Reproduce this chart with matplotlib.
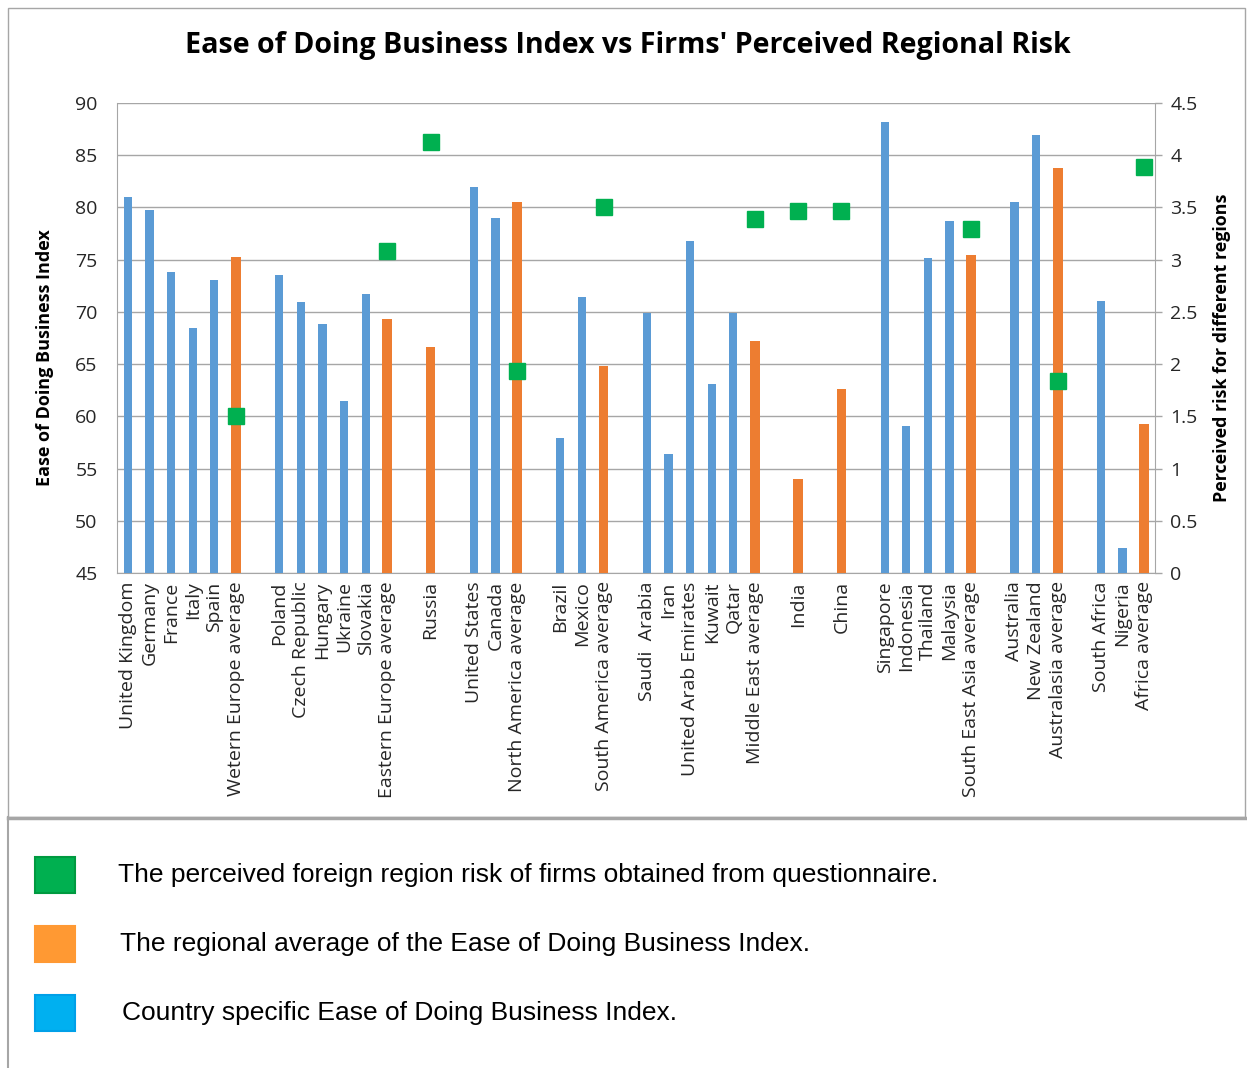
import numpy as np
import matplotlib.pyplot as plt
from matplotlib.patches import Rectangle
from matplotlib.lines import Line2D

plt.rcParams['font.family'] = ['Open Sans', 'DejaVu Sans']

# categories in chart order; None marks an empty slot between regions
labels = ['United Kingdom', 'Germany', 'France', 'Italy', 'Spain', 'Wetern Europe average', None,
          'Poland', 'Czech Republic', 'Hungary', 'Ukraine', 'Slovakia', 'Eastern Europe average', None,
          'Russia', None,
          'United States', 'Canada', 'North America average', None,
          'Brazil', 'Mexico', 'South America average', None,
          'Saudi  Arabia', 'Iran', 'United Arab Emirates', 'Kuwait', 'Qatar', 'Middle East average', None,
          'India', None,
          'China', None,
          'Singapore', 'Indonesia', 'Thailand', 'Malaysia', 'South East Asia average', None,
          'Australia', 'New Zealand', 'Australasia average', None,
          'South Africa', 'Nigeria', 'Africa average']

ease_index = [81.0, 79.8, 73.8, 68.5, 73.1, 75.3, None,
              73.5, 70.9, 68.8, 61.5, 71.7, 69.3, None,
              66.6, None,
              82.0, 79.0, 80.5, None,
              57.9, 71.4, 64.8, None,
              69.9, 56.4, 76.8, 63.1, 69.9, 67.2, None,
              54.0, None,
              62.6, None,
              88.2, 59.1, 75.2, 78.7, 75.4, None,
              80.5, 86.9, 83.8, None,
              71.0, 47.4, 59.3]

# perceived regional risk (right axis), placed on the regional average bars
risk_labels = ['Wetern Europe average', 'Eastern Europe average', 'Russia', 'North America average',
               'South America average', 'Middle East average', 'India', 'China',
               'South East Asia average', 'Australasia average', 'Africa average']
risk_values = [1.50, 3.08, 4.13, 1.93, 3.50, 3.39, 3.47, 3.47, 3.29, 1.84, 3.89]

# regional averages and single-country regions are drawn orange
regional = set(risk_labels)

blue = '#5B9BD5'
orange = '#ED7D31'
green = '#00B050'

fig = plt.figure(figsize=(12.47, 10.68), dpi=100)
W, H = 1247, 1068

ax = fig.add_axes([117/W, 1-573/H, (1155-117)/W, (573-103)/H])
ax2 = ax.twinx()

for i, (lab, v) in enumerate(zip(labels, ease_index)):
    if lab is None:
        continue
    if lab in regional:
        ax.bar(i, v - 45, bottom=45, width=0.45, color=orange, zorder=3)
    else:
        ax.bar(i, v - 45, bottom=45, width=0.38, color=blue, zorder=3)

rx = [labels.index(l) for l in risk_labels]
ax2.plot(rx, risk_values, 's', color=green, markersize=11.5, zorder=5)

ax.set_xlim(-0.5, len(labels) - 0.5)
ax.set_ylim(45, 90)
ax2.set_ylim(0, 4.5)
ax.set_yticks(range(45, 91, 5))
ax2.set_yticks(np.arange(0, 4.51, 0.5))
ax2.set_yticklabels(['0', '0.5', '1', '1.5', '2', '2.5', '3', '3.5', '4', '4.5'])
ax.yaxis.grid(True, color='#A6A6A6', linewidth=1, zorder=0)
ax.set_axisbelow(True)

ax.set_xticks([i for i, l in enumerate(labels) if l is not None])
ax.set_xticklabels([l for l in labels if l is not None], rotation=90, fontsize=14, color='#262626')
ax.tick_params(axis='x', length=0, pad=6)
ax.tick_params(axis='y', length=0, labelsize=14, pad=14, labelcolor='#262626')
ax2.tick_params(axis='y', length=5, width=1, color='#A6A6A6', labelsize=14, pad=6, labelcolor='#262626')

for a in (ax, ax2):
    a.spines['top'].set_visible(False)
    for s in ('left', 'right', 'bottom'):
        a.spines[s].set_color('#A6A6A6')
ax.spines['right'].set_visible(False)
ax2.spines['left'].set_visible(False)
ax2.spines['bottom'].set_visible(False)

fig.text(45/W, 1-358/H, 'Ease of Doing Business Index', rotation=90, ha='center', va='center',
         fontsize=13, fontweight='bold')
fig.text(1222/W, 1-348/H, 'Perceived risk for different regions', rotation=90, ha='center', va='center',
         fontsize=12.9, fontweight='bold')
fig.text(628/W, 1-45/H, "Ease of Doing Business Index vs Firms' Perceived Regional Risk",
         ha='center', va='center', fontsize=20.6, fontweight='bold')

# chart frame and legend panel
fig.add_artist(Rectangle((8/W, 1-817/H), (1245-8)/W, (817-8)/H, transform=fig.transFigure,
                         fill=False, edgecolor='#A6A6A6', linewidth=1))
fig.add_artist(Line2D([8/W, 1], [1-818/H, 1-818/H], transform=fig.transFigure,
                      color='#A6A6A6', linewidth=2.5))
fig.add_artist(Line2D([8/W, 8/W], [0, 1-817/H], transform=fig.transFigure,
                      color='#A6A6A6', linewidth=1.5))

legend_items = [(green, '#009A40', 'The perceived foreign region risk of firms obtained from questionnaire.', 875, 118),
                ('#FF9933', '#FF9933', 'The regional average of the Ease of Doing Business Index.', 944, 120),
                ('#00B0F0', '#00A0E8', 'Country specific Ease of Doing Business Index.', 1013, 122)]
for face, edge, text, yc, tx in legend_items:
    fig.add_artist(Rectangle((35/W, 1-(yc+18)/H), 40/W, 36/H, transform=fig.transFigure,
                             facecolor=face, edgecolor=edge, linewidth=1.5))
    fig.text(tx/W, 1-yc/H, text, ha='left', va='center', fontsize=19,
             family=['Liberation Sans', 'DejaVu Sans'])

fig.savefig('out.png', dpi=100)
